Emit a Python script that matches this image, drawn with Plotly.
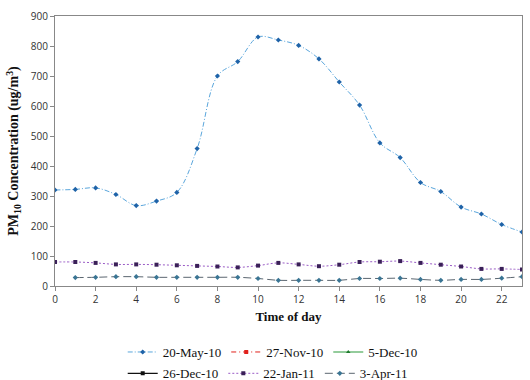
import plotly.graph_objects as go

hours = list(range(24))
may20 = [320, 322, 327, 305, 268, 283, 312, 458, 700, 748, 830, 820, 802, 757,
         680, 603, 477, 428, 345, 315, 263, 240, 205, 180]
jan22 = [80, 80, 77, 72, 72, 71, 69, 67, 65, 62, 68, 77, 72, 66, 71, 80, 81, 83,
         77, 71, 65, 57, 57, 55]
apr3_hours = list(range(1, 24))
apr3 = [28, 29, 31, 31, 29, 29, 29, 29, 29, 25, 19, 19, 19, 19, 25, 25, 26, 22,
        19, 22, 22, 26, 31]
x_ticks = list(range(0, 24, 2))
y_ticks = list(range(0, 901, 100))

fig = go.Figure()
fig.add_trace(go.Scatter(x=hours, y=may20, name="20-May-10", mode="lines+markers",
                         line=dict(color="#5AA6DC", width=1, dash="5px,2px,1px,2px", shape="spline"),
                         marker=dict(symbol="diamond", size=4, color="#1F63A8"),
                         legend="legend"))
fig.add_trace(go.Scatter(x=[None], y=[None], name="27-Nov-10", mode="lines+markers",
                         line=dict(color="#E0201B", width=1, dash="5px,3px,1px,3px"),
                         marker=dict(symbol="square", size=4, color="#E0201B"),
                         legend="legend"))
fig.add_trace(go.Scatter(x=[None], y=[None], name="5-Dec-10", mode="lines+markers",
                         line=dict(color="#2A9A3A", width=1.2),
                         marker=dict(symbol="triangle-up", size=4, color="#1E7A2C"),
                         legend="legend"))
fig.add_trace(go.Scatter(x=[None], y=[None], name="26-Dec-10", mode="lines+markers",
                         line=dict(color="#111111", width=1.2),
                         marker=dict(symbol="square", size=4, color="#111111"),
                         legend="legend2"))
fig.add_trace(go.Scatter(x=hours, y=jan22, name="22-Jan-11", mode="lines+markers",
                         line=dict(color="#9A5CC6", width=1, dash="2px,2px", shape="spline"),
                         marker=dict(symbol="square", size=4, color="#3A2058"),
                         legend="legend2"))
fig.add_trace(go.Scatter(x=apr3_hours, y=apr3, name="3-Apr-11", mode="lines+markers",
                         line=dict(color="#5B6670", width=1, dash="8px,4px", shape="spline"),
                         marker=dict(symbol="diamond", size=4, color="#3A7594"),
                         legend="legend2"))

tickfont = dict(family="Open Sans", size=10, color="#333333")
serif = "Liberation Serif"
legfont = dict(family=serif, size=13, color="#111111")

fig.update_layout(
    width=530, height=380,
    margin=dict(l=55, r=8, t=16, b=94, autoexpand=False),
    plot_bgcolor="white", paper_bgcolor="white",
    xaxis=dict(range=[0, 23], tickvals=x_ticks, ticks="outside", ticklen=4,
               tickcolor="#888888", showline=True, linecolor="#888888",
               mirror=True, showgrid=False, zeroline=False, tickfont=tickfont,
               title=dict(text="<b>Time of day</b>",
                          font=dict(family=serif, size=13, color="#111111"),
                          standoff=6)),
    yaxis=dict(range=[0, 900], tickvals=y_ticks, ticks="outside", ticklen=4,
               tickcolor="#888888", showline=True, linecolor="#888888",
               mirror=True, showgrid=False, zeroline=False, tickfont=tickfont,
               title=dict(text="<b>PM<sub>10</sub> Concentration (ug/m<sup>3</sup>)</b>",
                          font=dict(family=serif, size=14, color="#111111"),
                          standoff=8)),
    legend=dict(orientation="h", x=0.145, xanchor="left", y=-0.189, yanchor="top",
                font=legfont, tracegroupgap=0, bgcolor="rgba(0,0,0,0)"),
    legend2=dict(orientation="h", x=0.145, xanchor="left", y=-0.268, yanchor="top",
                 font=legfont, tracegroupgap=0, bgcolor="rgba(0,0,0,0)"),
    showlegend=True,
)

fig.write_html("out.html")
